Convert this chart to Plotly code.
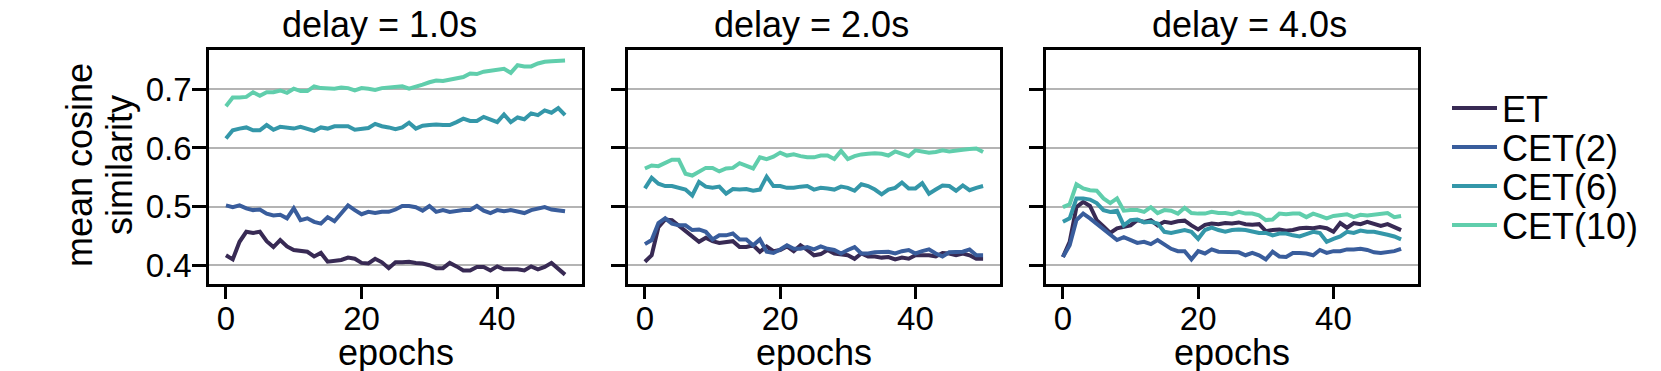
import plotly.graph_objects as go

# epochs 0..50 on the x axis
epochs = list(range(51))

delays = ["1.0s", "2.0s", "4.0s"]
series_names = ["ET", "CET(2)", "CET(6)", "CET(10)"]
series_colors = ["#382A54", "#395D9C", "#3497A9", "#60CEAC"]

# delay = 1.0s
et_d1 = [0.417, 0.410, 0.440, 0.457, 0.455, 0.457, 0.441, 0.431, 0.443, 0.432,
         0.426, 0.424, 0.423, 0.415, 0.421, 0.406, 0.407, 0.409, 0.413, 0.411,
         0.404, 0.403, 0.411, 0.405, 0.395, 0.405, 0.405, 0.406, 0.404, 0.403,
         0.400, 0.395, 0.395, 0.404, 0.398, 0.391, 0.391, 0.397, 0.397, 0.391,
         0.398, 0.393, 0.393, 0.393, 0.391, 0.398, 0.393, 0.397, 0.404, 0.394,
         0.384]
cet2_d1 = [0.502, 0.499, 0.502, 0.497, 0.494, 0.495, 0.488, 0.485, 0.486, 0.480,
           0.497, 0.477, 0.480, 0.474, 0.471, 0.482, 0.475, 0.488, 0.502, 0.494,
           0.487, 0.491, 0.489, 0.491, 0.491, 0.495, 0.501, 0.501, 0.499, 0.493,
           0.501, 0.491, 0.494, 0.491, 0.493, 0.494, 0.494, 0.501, 0.493, 0.489,
           0.494, 0.492, 0.494, 0.491, 0.489, 0.494, 0.497, 0.499, 0.495, 0.493,
           0.492]
cet6_d1 = [0.616, 0.630, 0.633, 0.635, 0.630, 0.630, 0.639, 0.631, 0.636, 0.635,
           0.633, 0.636, 0.633, 0.629, 0.635, 0.633, 0.637, 0.637, 0.637, 0.631,
           0.633, 0.634, 0.641, 0.637, 0.635, 0.632, 0.635, 0.643, 0.633, 0.638,
           0.639, 0.640, 0.639, 0.639, 0.644, 0.650, 0.646, 0.646, 0.653, 0.648,
           0.644, 0.657, 0.644, 0.652, 0.649, 0.659, 0.656, 0.664, 0.660, 0.668,
           0.656]
cet10_d1 = [0.671, 0.686, 0.686, 0.687, 0.695, 0.689, 0.695, 0.695, 0.698, 0.694,
            0.701, 0.697, 0.697, 0.705, 0.702, 0.701, 0.701, 0.703, 0.702, 0.698,
            0.702, 0.701, 0.699, 0.702, 0.703, 0.703, 0.705, 0.701, 0.704, 0.708,
            0.712, 0.715, 0.714, 0.716, 0.719, 0.721, 0.727, 0.726, 0.730, 0.732,
            0.734, 0.735, 0.728, 0.741, 0.739, 0.739, 0.744, 0.747, 0.748, 0.748,
            0.749]

# delay = 2.0s
et_d2 = [0.406, 0.417, 0.465, 0.478, 0.477, 0.468, 0.460, 0.451, 0.440, 0.447,
         0.441, 0.438, 0.439, 0.441, 0.431, 0.431, 0.434, 0.423, 0.432, 0.424,
         0.426, 0.432, 0.424, 0.434, 0.426, 0.417, 0.419, 0.426, 0.420, 0.419,
         0.417, 0.411, 0.420, 0.415, 0.415, 0.413, 0.414, 0.410, 0.413, 0.411,
         0.417, 0.417, 0.417, 0.415, 0.421, 0.420, 0.417, 0.420, 0.417, 0.411,
         0.411]
cet2_d2 = [0.436, 0.443, 0.472, 0.480, 0.471, 0.468, 0.468, 0.460, 0.461, 0.457,
           0.444, 0.451, 0.451, 0.454, 0.444, 0.444, 0.434, 0.444, 0.423, 0.421,
           0.427, 0.434, 0.428, 0.428, 0.431, 0.427, 0.432, 0.428, 0.426, 0.420,
           0.426, 0.431, 0.420, 0.420, 0.422, 0.423, 0.423, 0.420, 0.424, 0.426,
           0.420, 0.424, 0.427, 0.420, 0.415, 0.422, 0.423, 0.423, 0.427, 0.417,
           0.417]
cet6_d2 = [0.531, 0.549, 0.539, 0.535, 0.535, 0.532, 0.529, 0.519, 0.542, 0.534,
           0.532, 0.534, 0.522, 0.530, 0.529, 0.530, 0.527, 0.529, 0.551, 0.535,
           0.535, 0.532, 0.532, 0.534, 0.535, 0.529, 0.532, 0.531, 0.529, 0.534,
           0.532, 0.527, 0.538, 0.535, 0.529, 0.521, 0.529, 0.532, 0.541, 0.531,
           0.531, 0.540, 0.522, 0.529, 0.536, 0.535, 0.527, 0.536, 0.528, 0.532,
           0.535]
cet10_d2 = [0.565, 0.570, 0.569, 0.574, 0.580, 0.580, 0.556, 0.553, 0.559, 0.566,
            0.566, 0.560, 0.565, 0.566, 0.574, 0.570, 0.565, 0.584, 0.581, 0.585,
            0.592, 0.587, 0.589, 0.586, 0.584, 0.584, 0.587, 0.587, 0.581, 0.595,
            0.581, 0.586, 0.589, 0.590, 0.591, 0.590, 0.587, 0.594, 0.590, 0.586,
            0.596, 0.594, 0.592, 0.593, 0.596, 0.594, 0.596, 0.597, 0.598, 0.599,
            0.593]

# delay = 4.0s
et_d4 = [0.414, 0.440, 0.499, 0.508, 0.501, 0.477, 0.466, 0.455, 0.463, 0.465,
         0.468, 0.477, 0.474, 0.477, 0.468, 0.474, 0.472, 0.475, 0.476, 0.468,
         0.461, 0.469, 0.471, 0.470, 0.472, 0.471, 0.473, 0.470, 0.469, 0.470,
         0.458, 0.460, 0.461, 0.459, 0.460, 0.463, 0.464, 0.463, 0.465, 0.463,
         0.457, 0.472, 0.464, 0.472, 0.470, 0.474, 0.471, 0.467, 0.470, 0.465,
         0.460]
cet2_d4 = [0.414, 0.434, 0.477, 0.488, 0.480, 0.471, 0.463, 0.454, 0.443, 0.448,
           0.443, 0.438, 0.440, 0.436, 0.443, 0.436, 0.428, 0.424, 0.424, 0.410,
           0.424, 0.420, 0.427, 0.423, 0.423, 0.422, 0.422, 0.417, 0.421, 0.417,
           0.410, 0.423, 0.415, 0.414, 0.421, 0.421, 0.420, 0.417, 0.426, 0.421,
           0.424, 0.424, 0.427, 0.427, 0.428, 0.426, 0.422, 0.421, 0.422, 0.424,
           0.428]
cet6_d4 = [0.474, 0.480, 0.514, 0.514, 0.512, 0.506, 0.494, 0.491, 0.493, 0.468,
           0.477, 0.478, 0.473, 0.474, 0.471, 0.457, 0.455, 0.458, 0.460, 0.457,
           0.445, 0.460, 0.464, 0.460, 0.457, 0.460, 0.461, 0.460, 0.457, 0.455,
           0.455, 0.451, 0.454, 0.454, 0.451, 0.449, 0.453, 0.457, 0.455, 0.440,
           0.445, 0.449, 0.457, 0.455, 0.459, 0.457, 0.457, 0.455, 0.452, 0.449,
           0.444]
cet10_d4 = [0.499, 0.504, 0.538, 0.531, 0.528, 0.527, 0.514, 0.506, 0.514, 0.493,
            0.494, 0.494, 0.491, 0.499, 0.489, 0.494, 0.493, 0.488, 0.498, 0.489,
            0.488, 0.488, 0.491, 0.489, 0.489, 0.487, 0.491, 0.488, 0.488, 0.485,
            0.477, 0.478, 0.488, 0.487, 0.488, 0.488, 0.482, 0.488, 0.484, 0.480,
            0.484, 0.485, 0.487, 0.482, 0.486, 0.485, 0.486, 0.488, 0.489, 0.482,
            0.484]

y_ticks = [0.4, 0.5, 0.6, 0.7]
x_ticks = [0, 20, 40]

panels = [
    [et_d1, cet2_d1, cet6_d1, cet10_d1],
    [et_d2, cet2_d2, cet6_d2, cet10_d2],
    [et_d4, cet2_d4, cet6_d4, cet10_d4],
]

# the page body has an 8px margin, so the figure is drawn 8px in and 8px down
OFF = 8
W, H = 1661 - OFF, 371 - OFF
FONT = "Liberation Sans, Arial, Helvetica, sans-serif"
FS = 36      # titles, labels, legend
FS_TICK = 33


def px_x(x):
    return (x - OFF) / W


def px_y(y):
    return 1 - (y - OFF) / H


# panel boxes in screen pixels
x_px = [(209, 582), (628, 1000), (1046, 1418)]
top_px, bot_px = 50, 284
title_cx = [379, 811, 1249]
legend_cy = [108, 147, 186, 225]

fig = go.Figure()
layout = {}
annotations = []
for i, (cols, delay) in enumerate(zip(panels, delays)):
    n = "" if i == 0 else str(i + 1)
    for j, vals in enumerate(cols):
        fig.add_trace(go.Scatter(
            x=epochs, y=vals, mode="lines",
            name=series_names[j],
            line=dict(color=series_colors[j], width=4),
            showlegend=(i == 0),
            legend="legend" if j == 0 else f"legend{j + 1}",
            xaxis="x" + n, yaxis="y" + n,
        ))
    x0, x1 = px_x(x_px[i][0]), px_x(x_px[i][1])
    layout["xaxis" + n] = dict(
        domain=[x0, x1], range=[-2.5, 52.5], anchor="y" + n,
        tickvals=x_ticks, ticks="outside", ticklen=12, tickwidth=2.5,
        tickcolor="black", showline=True, linecolor="black", linewidth=2.5,
        mirror=True, showgrid=False, zeroline=False, ticklabelstandoff=-8,
        tickfont=dict(size=FS_TICK, color="black"),
    )
    layout["yaxis" + n] = dict(
        domain=[px_y(bot_px), px_y(top_px)], range=[0.368, 0.767],
        anchor="x" + n, tickvals=y_ticks, ticktext=[f"{v:.1f}" for v in y_ticks],
        showticklabels=(i == 0), ticks="outside", ticklen=14, tickwidth=2.5,
        tickcolor="black", showline=True, linecolor="black", linewidth=2.5,
        mirror=True, showgrid=True, gridcolor="#b4b4b4", gridwidth=2,
        zeroline=False, ticklabelstandoff=-6,
        tickfont=dict(size=FS_TICK, color="black"),
    )
    annotations.append(dict(
        text=f"delay = {delay}", x=px_x(title_cx[i]), y=px_y(24),
        xref="paper", yref="paper", xanchor="center", yanchor="middle",
        showarrow=False, font=dict(size=FS, color="black"),
    ))
    annotations.append(dict(
        text="epochs", x=(x0 + x1) / 2, y=px_y(352),
        xref="paper", yref="paper", xanchor="center", yanchor="middle",
        showarrow=False, font=dict(size=FS, color="black"),
    ))

# two-line y title, placed line by line for tight spacing
for txt, cx in [("mean cosine", 79), ("similarity", 119)]:
    annotations.append(dict(
        text=txt, x=px_x(cx), y=px_y(165), xref="paper", yref="paper",
        xanchor="center", yanchor="middle", textangle=-90, showarrow=False,
        font=dict(size=FS, color="black"),
    ))

legends = {}
for j, cy in enumerate(legend_cy):
    key = "legend" if j == 0 else f"legend{j + 1}"
    legends[key] = dict(
        x=px_x(1447), y=px_y(cy), xanchor="left", yanchor="middle",
        font=dict(size=FS, color="black"), bgcolor="rgba(0,0,0,0)",
        borderwidth=0, itemwidth=45,
    )

fig.update_layout(
    **layout,
    **legends,
    annotations=annotations,
    width=W, height=H,
    margin=dict(l=0, r=0, t=0, b=0),
    plot_bgcolor="white", paper_bgcolor="white",
    font=dict(family=FONT, size=FS, color="black"),
)

fig.write_html("out.html")
